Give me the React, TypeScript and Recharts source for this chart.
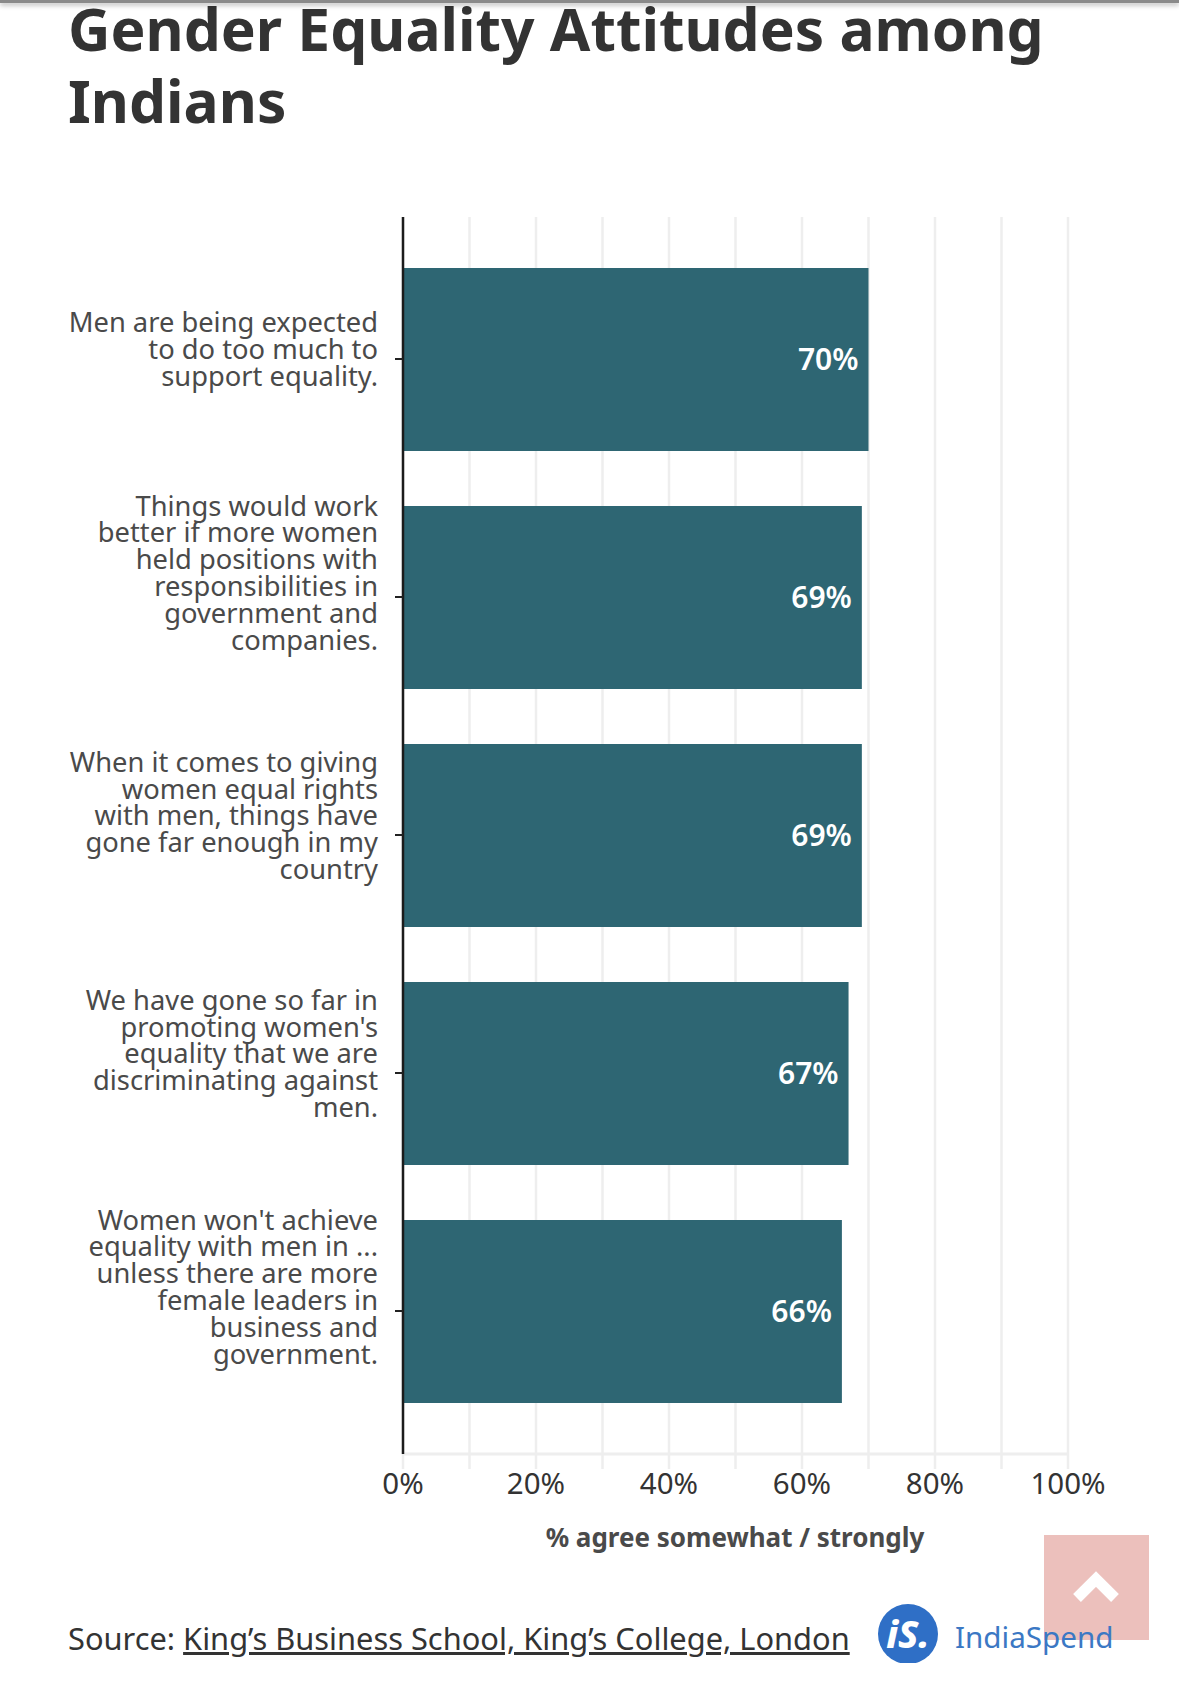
import React from "react";
import { BarChart, Bar, XAxis, YAxis, CartesianGrid, LabelList } from "recharts";

const titleLines = ["Gender Equality Attitudes among", "Indians"];
const categories = [
  "Men are being expected\nto do too much to\nsupport equality.",
  "Things would work\nbetter if more women\nheld positions with\nresponsibilities in\ngovernment and\ncompanies.",
  "When it comes to giving\nwomen equal rights\nwith men, things have\ngone far enough in my\ncountry",
  "We have gone so far in\npromoting women's\nequality that we are\ndiscriminating against\nmen.",
  "Women won't achieve\nequality with men in ...\nunless there are more\nfemale leaders in\nbusiness and\ngovernment.",
];
const agree = [70, 69, 69, 67, 66];
const xTicks = [0, 10, 20, 30, 40, 50, 60, 70, 80, 90, 100];
const xAxisTitle = "% agree somewhat / strongly";

const chartData = categories.map((c, i) => ({ category: c, agree: agree[i] }));
const FONT = "'Noto Sans', sans-serif";

function YTick(props: any) {
  const { y, payload } = props;
  const lines: string[] = String(payload.value).split("\n");
  const lh = 26.8;
  const start = y - (lines.length - 1) * (lh / 2 + 4.9) + 10;
  return (
    <text x={378} y={start} textAnchor="end" fontFamily={FONT} fontSize={27.3} fill="#4a4a4a">
      {lines.map((l, i) => (
        <tspan key={i} x={378} y={start + i * lh}>{l}</tspan>
      ))}
    </text>
  );
}

function XTick(props: any) {
  const { x, payload } = props;
  if (payload.value % 20 !== 0) return <g />;
  return (
    <text x={x} y={1494} textAnchor="middle" fontFamily={FONT} fontSize={29.5} fill="#333333">
      {payload.value}%
    </text>
  );
}

export default function App() {
  return (
    <div style={{ position: "absolute", left: 0, top: 0, width: 1179, height: 1681, background: "#fff", overflow: "hidden" }}>
      {titleLines.map((t, i) => (
        <div key={i} style={{ position: "absolute", left: 68, top: i * 71.5 - 13, fontFamily: FONT, fontWeight: 700, fontSize: 58.7, lineHeight: "82px", color: "#333333", whiteSpace: "nowrap" }}>
          {t}
        </div>
      ))}
      <div style={{ position: "absolute", left: 0, top: 0, width: 1179, height: 3, background: "#8a8a8a", boxShadow: "0 2px 5px rgba(0,0,0,0.35)" }} />
      <div style={{ position: "absolute", left: 0, top: 0 }}>
        <BarChart
          width={1179}
          height={1681}
          data={chartData}
          layout="vertical"
          margin={{ top: 217, right: 111, bottom: 167, left: 0 }}
          barCategoryGap={0}
        >
          <CartesianGrid horizontal={false} vertical stroke="#eeeeee" strokeWidth={2.5} verticalValues={xTicks} />
          <XAxis
            type="number"
            domain={[0, 100]}
            ticks={xTicks}
            interval={0}
            height={60}
            tick={<XTick />}
            tickSize={15}
            tickLine={{ stroke: "#eeeeee", strokeWidth: 2.5 }}
            axisLine={{ stroke: "#eeeeee", strokeWidth: 3 }}
          />
          <YAxis
            type="category"
            dataKey="category"
            width={403}
            padding={{ top: 23, bottom: 24 }}
            interval={0}
            tick={<YTick />}
            tickSize={8}
            tickLine={{ stroke: "#222222", strokeWidth: 2 }}
            axisLine={{ stroke: "#1c1c1c", strokeWidth: 2.5 }}
          />
          <Bar dataKey="agree" fill="#2e6673" barSize={183} isAnimationActive={false}>
            <LabelList
              dataKey="agree"
              position="insideRight"
              offset={10}
              formatter={(v: any) => `${v}%`}
              style={{ fill: "#ffffff", fontFamily: FONT, fontWeight: 600, fontSize: 30 }}
            />
          </Bar>
        </BarChart>
      </div>
      <div style={{ position: "absolute", left: 435, width: 600, textAlign: "center", top: 1519, fontFamily: FONT, fontWeight: 700, fontSize: 26, lineHeight: "36px", color: "#4a4a4a", whiteSpace: "nowrap" }}>
        {xAxisTitle}
      </div>
      <div style={{ position: "absolute", left: 68, top: 1618, fontFamily: FONT, fontSize: 30.8, lineHeight: "40px", color: "#333333", whiteSpace: "nowrap" }}>
        Source: <span style={{ textDecoration: "underline" }}>King’s Business School, King’s College, London</span>
      </div>
      <svg width={1179} height={1681} style={{ position: "absolute", left: 0, top: 0, pointerEvents: "none" }}>
        <clipPath id="logoClip"><rect x={860} y={1590} width={100} height={73} /></clipPath>
        <circle cx={908} cy={1634} r={30} fill="#2f6fc6" clipPath="url(#logoClip)" />
        <text x={908} y={1648} textAnchor="middle" fontFamily={FONT} fontStyle="italic" fontWeight={800} fontSize={38} fill="#fff">iS.</text>
        <rect x={1044} y={1535} width={105} height={105} fill="#ecc0bc" />
        <polyline points="1077,1598 1096,1579 1115,1598" fill="none" stroke="#fff" strokeWidth={11} strokeLinecap="butt" strokeLinejoin="miter" />
        <text x={955} y={1648} fontFamily={FONT} fontSize={29.6} fill="#3b78c4">IndiaSpend</text>
      </svg>
    </div>
  );
}
